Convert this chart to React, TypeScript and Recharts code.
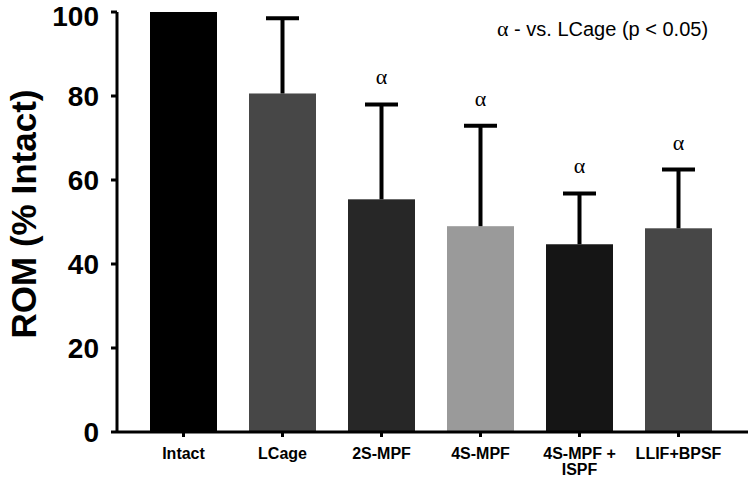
import { Bar, BarChart, Cell, XAxis, YAxis, Label } from "recharts";

const CATEGORIES = ["Intact", "LCage", "2S-MPF", "4S-MPF", "4S-MPF + ISPF", "LLIF+BPSF"];
const ROM_MEAN = [100, 80.6, 55.4, 49.0, 44.7, 48.5];
const ROM_SD = [0, 17.9, 22.6, 23.9, 12.1, 14.0];
const SIG_VS_LCAGE = [false, false, true, true, true, true];
const BAR_COLORS = ["#000000", "#474747", "#272727", "#9a9a9a", "#151515", "#474747"];
const Y_TICKS = [0, 20, 40, 60, 80, 100];

const DATA = CATEGORIES.map((name, i) => ({
  name,
  rom: ROM_MEAN[i],
  sd: ROM_SD[i],
  sig: SIG_VS_LCAGE[i],
}));

const FONT = "'Liberation Sans', Arial, sans-serif";
const ALPHA_FONT = "'Liberation Serif', 'Times New Roman', serif";

// bar with an upper-only error bar and the alpha marker
function BarWithError(props: any) {
  const { x, y, width, height, fill, payload } = props;
  const pxPerUnit = payload.rom ? height / payload.rom : 0;
  const top = y - payload.sd * pxPerUnit;
  const cx = x + width / 2;
  return (
    <g>
      <rect x={x} y={y} width={width} height={height} fill={fill} />
      {payload.sd > 0 && (
        <g stroke="#000" strokeWidth={4}>
          <line x1={cx} x2={cx} y1={y} y2={top} />
          <line x1={cx - 16.5} x2={cx + 16.5} y1={top} y2={top} />
        </g>
      )}
      {payload.sig && (
        <text x={cx} y={top - 20} textAnchor="middle" fontSize={22} fontFamily={ALPHA_FONT} fill="#000">
          α
        </text>
      )}
    </g>
  );
}

function XTick(props: any) {
  const { x, y, payload } = props;
  const label: string = payload.value;
  const lines = label.includes(" + ") ? [label.split(" + ")[0] + " +", label.split(" + ")[1]] : [label];
  return (
    <text x={x} y={y} textAnchor="middle" fontSize={16} fontWeight="bold" fontFamily={FONT} fill="#000">
      {lines.map((l, i) => (
        <tspan key={i} x={x} dy={i === 0 ? 20 : 16}>
          {l}
        </tspan>
      ))}
    </text>
  );
}

export default function App() {
  return (
    <div style={{ position: "absolute", left: 0, top: 0, width: 750, height: 477, background: "#fff" }}>
      <BarChart
        width={750}
        height={477}
        data={DATA}
        margin={{ top: 12, right: 2, bottom: 0, left: 0 }}
        barSize={67}
      >
        <XAxis
          dataKey="name"
          height={45}
          padding={{ left: 17, right: 20 }}
          axisLine={{ stroke: "#000", strokeWidth: 3 }}
          tickLine={{ stroke: "#000", strokeWidth: 3 }}
          tickSize={5}
          tick={<XTick />}
          interval={0}
        />
        <YAxis
          width={117}
          domain={[0, 100]}
          ticks={Y_TICKS}
          axisLine={{ stroke: "#000", strokeWidth: 3 }}
          tickLine={{ stroke: "#000", strokeWidth: 3 }}
          tickSize={6}
          tickMargin={12}
          tick={{ fontSize: 28, fontWeight: "bold", fontFamily: FONT, fill: "#000" }}
        >
          <Label
            content={(p: any) => {
              const vb = p.viewBox;
              const cy = vb.y + vb.height / 2 - 8;
              return (
                <text
                  x={36}
                  y={cy}
                  transform={`rotate(-90, 36, ${cy})`}
                  textAnchor="middle"
                  fontSize={35}
                  fontWeight="bold"
                  fontFamily={FONT}
                  fill="#000"
                >
                  ROM (% Intact)
                </text>
              );
            }}
          />
        </YAxis>
        <Bar dataKey="rom" isAnimationActive={false} shape={<BarWithError />}>
          {DATA.map((d, i) => (
            <Cell key={d.name} fill={BAR_COLORS[i]} />
          ))}
        </Bar>
      </BarChart>
      <div
        style={{
          position: "absolute",
          left: 497,
          top: 16,
          fontFamily: FONT,
          fontSize: 20,
          color: "#000",
          whiteSpace: "nowrap",
        }}
      >
        <span style={{ fontFamily: ALPHA_FONT, fontSize: 22 }}>α</span> - vs. LCage (p &lt; 0.05)
      </div>
    </div>
  );
}
